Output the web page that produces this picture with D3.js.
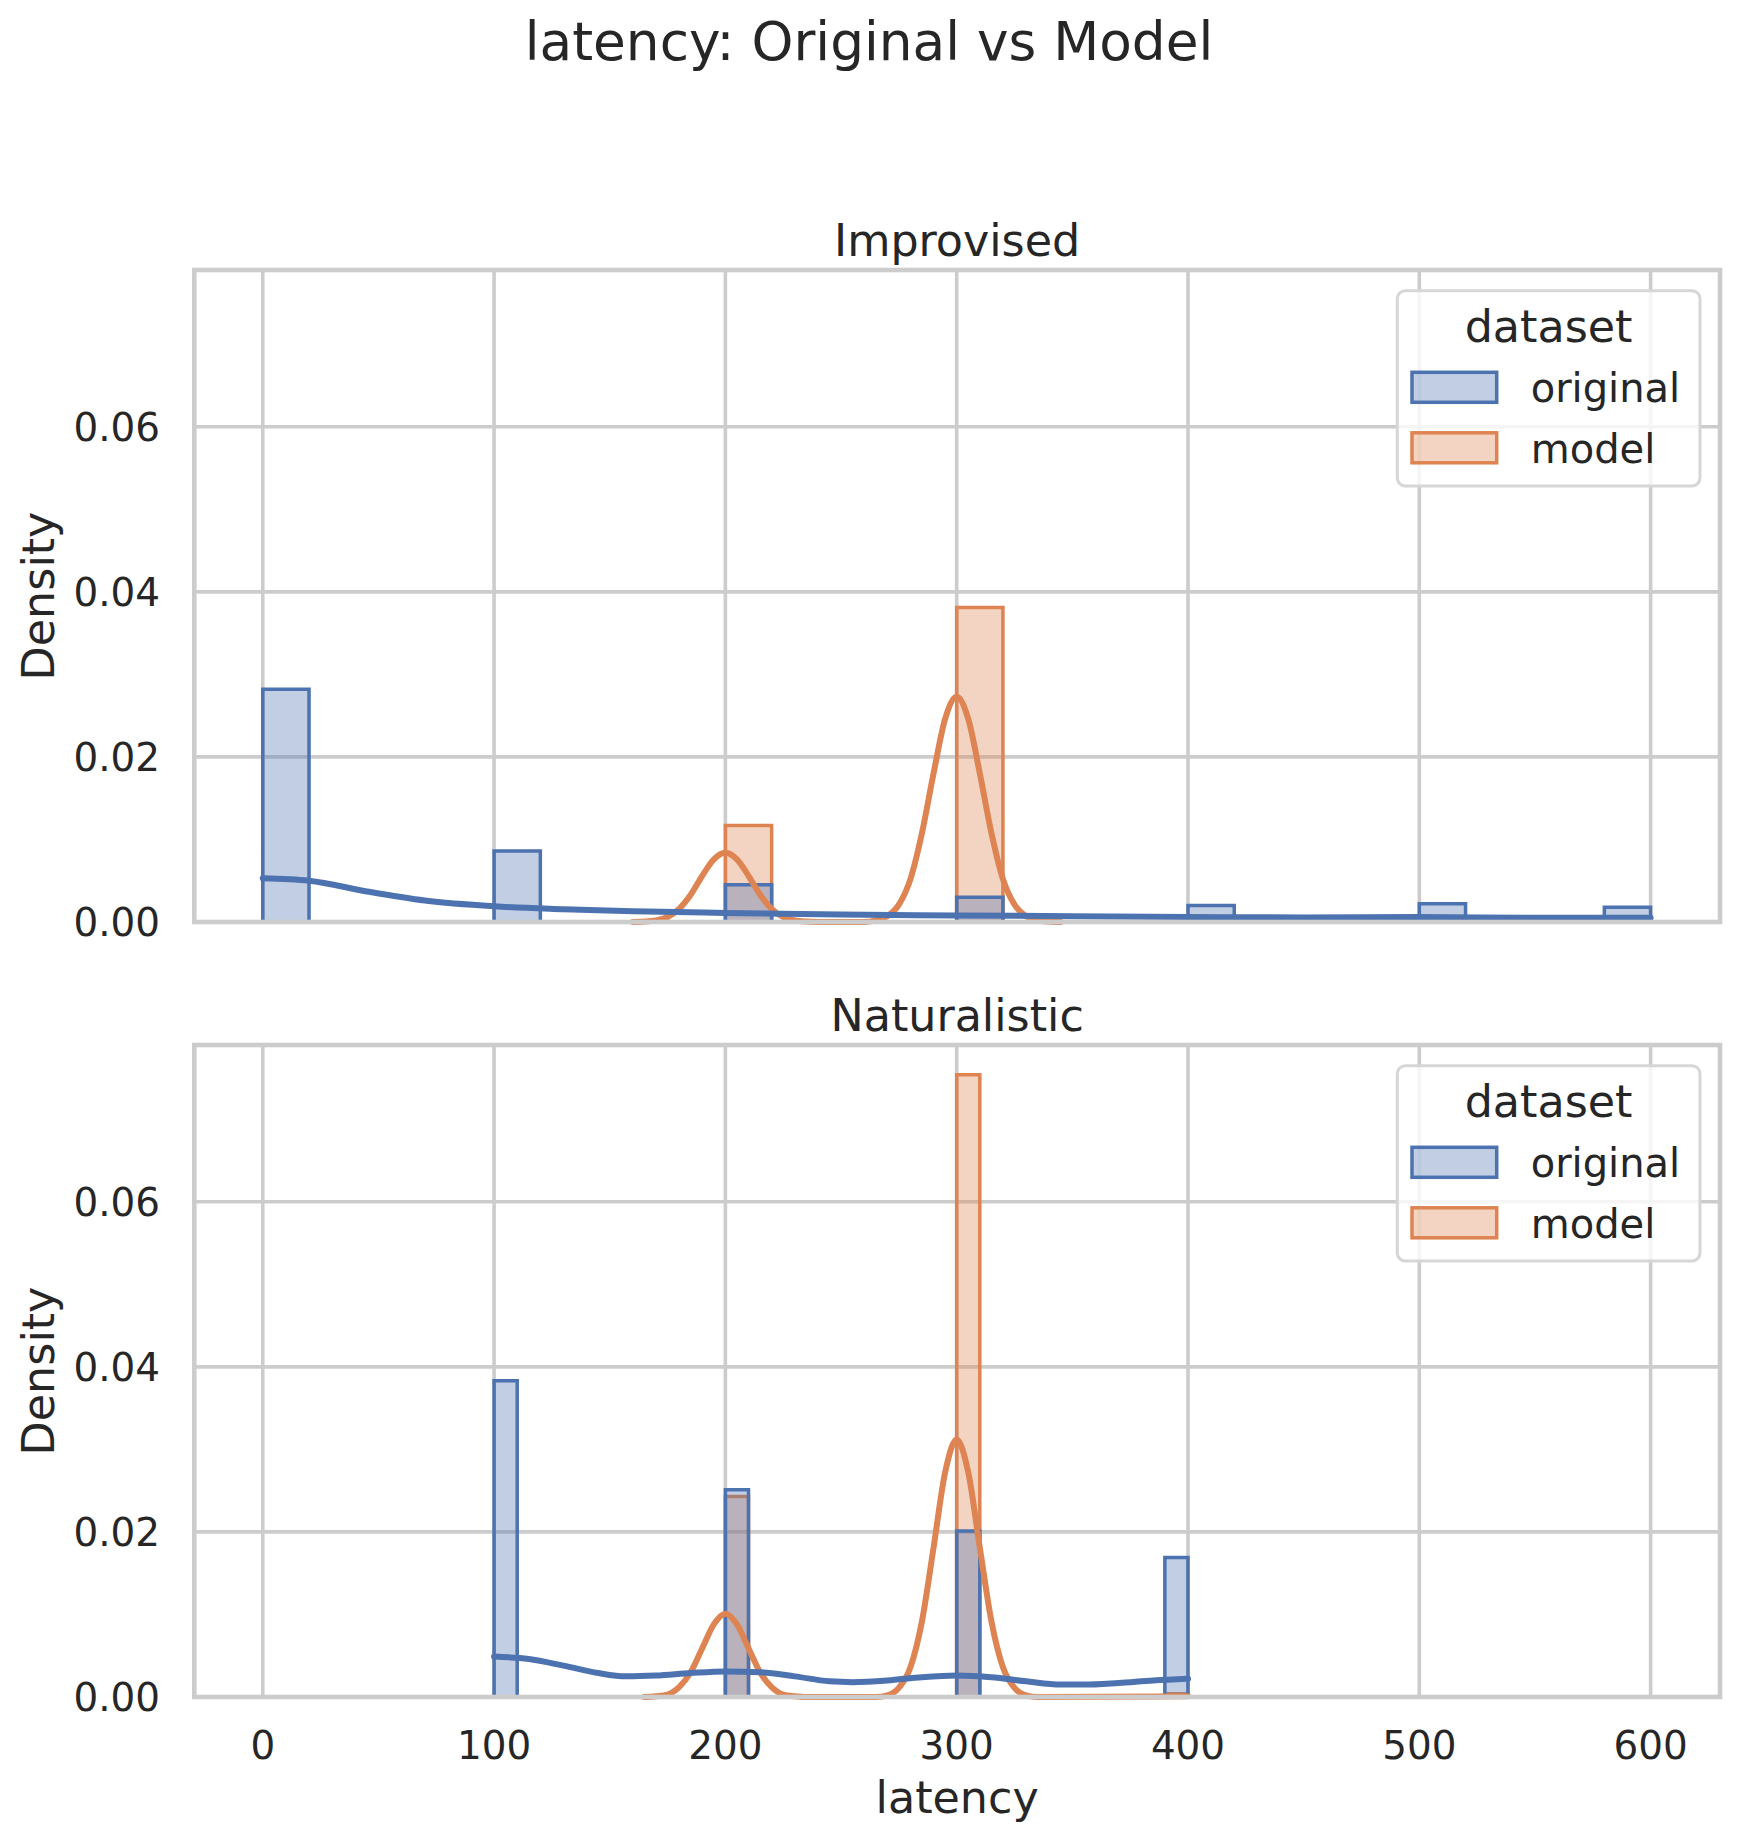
<!DOCTYPE html>
<html>
<head>
<meta charset="utf-8">
<script src="https://cdn.jsdelivr.net/npm/d3@7"></script>
<style>
  body { margin: 0; background: #fff; }
  text { font-family: "DejaVu Sans", sans-serif; fill: #262626; }
</style>
</head>
<body>
<div id="chart"></div>
<script>
// ---- data ----
const hueLevels = ['original', 'model'];
const panelTitles = ['Improvised', 'Naturalistic'];
const xTicks = [0, 100, 200, 300, 400, 500, 600];
const yTicks = [0, 0.02, 0.04, 0.06];

// Improvised: 30 bins of 20 from 0 to 600
const impBinStart = 0, impBinWidth = 20;
const impOriginal = [0.0282, 0, 0, 0, 0, 0.0086, 0, 0, 0, 0, 0.0045, 0, 0, 0, 0, 0.0030, 0, 0, 0, 0, 0.0020, 0, 0, 0, 0, 0.0022, 0, 0, 0, 0.0018];
const impModel = [0, 0, 0, 0, 0, 0, 0, 0, 0, 0, 0.0117, 0, 0, 0, 0, 0.0381, 0, 0, 0, 0, 0, 0, 0, 0, 0, 0, 0, 0, 0, 0];

// Naturalistic: 30 bins of 10 from 100 to 400
const natBinStart = 100, natBinWidth = 10;
const natOriginal = [0.0383, 0, 0, 0, 0, 0, 0, 0, 0, 0, 0.0251, 0, 0, 0, 0, 0, 0, 0, 0, 0, 0.0201, 0, 0, 0, 0, 0, 0, 0, 0, 0.0169];
const natModel = [0, 0, 0, 0, 0, 0, 0, 0, 0, 0, 0.0243, 0, 0, 0, 0, 0, 0, 0, 0, 0, 0.0754, 0, 0, 0, 0, 0, 0, 0, 0, 0.0004];

// kde curves as [latency, density]
const impOriginalKde = [[0, 0.0053], [20, 0.0050], [45, 0.0037], [70, 0.0026], [100, 0.0019], [130, 0.00155], [160, 0.0013], [200, 0.0011], [250, 0.0009], [300, 0.0008], [350, 0.0007], [400, 0.0006], [450, 0.00055], [500, 0.0006], [550, 0.0005], [600, 0.0005]];
const impModelKde = [[160, 0], [165, 0.00005], [170, 0.0002], [175, 0.0006], [180, 0.0016], [185, 0.0033], [190, 0.0056], [195, 0.0076], [200, 0.0084], [205, 0.0076], [210, 0.0056], [215, 0.0033], [220, 0.0016], [225, 0.0006], [230, 0.0002], [235, 0.00005], [240, 0], [260, 0], [265, 0.0002], [270, 0.0007], [275, 0.0021], [280, 0.0052], [285, 0.0108], [290, 0.0180], [295, 0.0246], [300, 0.0273], [305, 0.0246], [310, 0.0180], [315, 0.0108], [320, 0.0052], [325, 0.0021], [330, 0.0007], [335, 0.0002], [340, 0.00005], [345, 0]];
const natOriginalKde = [[100, 0.0049], [115, 0.0046], [130, 0.0038], [145, 0.0029], [157, 0.0025], [170, 0.0026], [185, 0.0029], [200, 0.0031], [215, 0.0030], [230, 0.0025], [245, 0.0019], [255, 0.0018], [270, 0.0020], [285, 0.0024], [300, 0.0026], [315, 0.0024], [330, 0.0019], [345, 0.0015], [355, 0.0015], [370, 0.0017], [385, 0.0020], [400, 0.0022]];
const natModelKde = [[165, 0], [170, 0.0001], [175, 0.0003], [180, 0.0012], [185, 0.0030], [190, 0.0059], [195, 0.0088], [200, 0.0101], [205, 0.0088], [210, 0.0059], [215, 0.0030], [220, 0.0012], [225, 0.0003], [230, 0.0001], [235, 0], [265, 0], [270, 0.0002], [275, 0.0011], [280, 0.0036], [285, 0.0092], [290, 0.0181], [295, 0.0272], [300, 0.0312], [305, 0.0272], [310, 0.0181], [315, 0.0092], [320, 0.0036], [325, 0.0011], [330, 0.0002], [335, 0], [400, 0.0001]];

const panels = [
    { title: panelTitles[0], start: impBinStart, width: impBinWidth, hist: { original: impOriginal, model: impModel }, kde: { original: impOriginalKde, model: impModelKde } },
    { title: panelTitles[1], start: natBinStart, width: natBinWidth, hist: { original: natOriginal, model: natModel }, kde: { original: natOriginalKde, model: natModelKde } }
];

// ---- layout ----
const W = 1738, H = 1839;
const colors = { original: '#4C72B0', model: '#DD8452' };
const fillAlpha = 0.35;
const plotLeft = 194.3, plotRight = 1720;
const panelTops = [270, 1045];
const panelHeight = 652;
const gridColor = '#cccccc';

const x = d3.scaleLinear().domain([-29.6, 630]).range([plotLeft, plotRight]);

const svg = d3.select('#chart')
    .append('svg')
    .attr('width', W)
    .attr('height', H);

svg.append('rect').attr('width', W).attr('height', H).attr('fill', '#fff');

svg.append('text')
    .attr('x', W / 2)
    .attr('y', 60)
    .attr('text-anchor', 'middle')
    .attr('font-size', '53.3px')
    .text('latency: Original vs Model');

panels.forEach((p, pi) => {
    const top = panelTops[pi];
    const bottom = top + panelHeight;
    const y = d3.scaleLinear().domain([0, 0.07899]).range([bottom, top]);
    const g = svg.append('g');

    // grid
    g.selectAll('.xgrid')
        .data(xTicks)
        .enter()
        .append('line')
        .attr('x1', d => x(d)).attr('x2', d => x(d))
        .attr('y1', top).attr('y2', bottom)
        .attr('stroke', gridColor)
        .attr('stroke-width', 3.6);

    g.selectAll('.ygrid')
        .data(yTicks)
        .enter()
        .append('line')
        .attr('x1', plotLeft).attr('x2', plotRight)
        .attr('y1', d => y(d)).attr('y2', d => y(d))
        .attr('stroke', gridColor)
        .attr('stroke-width', 3.6);

    // step histograms, model first so original sits on top
    const area = d3.area()
        .x(d => x(d[0]))
        .y0(y(0))
        .y1(d => y(d[1]))
        .curve(d3.curveStepAfter);

    ['model', 'original'].forEach(level => {
        const vals = p.hist[level];
        const pts = vals.map((v, i) => [p.start + i * p.width, v]);
        pts.push([p.start + vals.length * p.width, vals[vals.length - 1]]);
        g.append('path')
            .attr('d', area(pts) + 'Z')
            .attr('fill', colors[level])
            .attr('fill-opacity', fillAlpha)
            .attr('stroke', colors[level])
            .attr('stroke-width', 3.5)
            .attr('stroke-linejoin', 'miter');
    });

    // kde lines
    const line = d3.line()
        .x(d => x(d[0]))
        .y(d => y(d[1]))
        .curve(d3.curveMonotoneX);

    ['model', 'original'].forEach(level => {
        g.append('path')
            .attr('d', line(p.kde[level]))
            .attr('fill', 'none')
            .attr('stroke', colors[level])
            .attr('stroke-width', 6)
            .attr('stroke-linecap', 'round')
            .attr('stroke-linejoin', 'round');
    });

    // spines
    g.append('rect')
        .attr('x', plotLeft).attr('y', top)
        .attr('width', plotRight - plotLeft).attr('height', panelHeight)
        .attr('fill', 'none')
        .attr('stroke', gridColor)
        .attr('stroke-width', 4.6);

    // y tick labels
    g.selectAll('.ylab')
        .data(yTicks)
        .enter()
        .append('text')
        .attr('x', 160)
        .attr('y', d => y(d))
        .attr('dy', '0.36em')
        .attr('text-anchor', 'end')
        .attr('font-size', '38.9px')
        .text(d => d3.format('.2f')(d));

    // y label
    g.append('text')
        .attr('transform', `translate(54,${(top + bottom) / 2}) rotate(-90)`)
        .attr('text-anchor', 'middle')
        .attr('font-size', '44.4px')
        .text('Density');

    // panel title
    g.append('text')
        .attr('x', (plotLeft + plotRight) / 2)
        .attr('y', top - 14)
        .attr('text-anchor', 'middle')
        .attr('font-size', '44.4px')
        .text(p.title);

    // legend
    const lx = 1397.3, ly = top + 20.7;
    const legend = g.append('g').attr('transform', `translate(${lx},${ly})`);
    legend.append('rect')
        .attr('width', 302.7).attr('height', 195.3)
        .attr('rx', 8).attr('ry', 8)
        .attr('fill', '#fff').attr('fill-opacity', 0.8)
        .attr('stroke', '#d6d6d6').attr('stroke-width', 3);
    legend.append('text')
        .attr('x', 151.3).attr('y', 51.6)
        .attr('text-anchor', 'middle')
        .attr('font-size', '44.4px')
        .text('dataset');
    const items = legend.selectAll('.legend-item')
        .data(hueLevels)
        .enter()
        .append('g')
        .attr('transform', (d, i) => `translate(0,${81.6 + i * 60.5})`);
    items.append('rect')
        .attr('x', 14.7).attr('y', 0)
        .attr('width', 84.7).attr('height', 30)
        .attr('fill', d => colors[d]).attr('fill-opacity', fillAlpha)
        .attr('stroke', d => colors[d]).attr('stroke-width', 3.5);
    items.append('text')
        .attr('x', 133.4).attr('y', 29.8)
        .attr('font-size', '40px')
        .text(d => d);

    // x tick labels on the bottom panel only
    if (pi === panels.length - 1) {
        g.selectAll('.xlab')
            .data(xTicks)
            .enter()
            .append('text')
            .attr('x', d => x(d))
            .attr('y', 1759.3)
            .attr('text-anchor', 'middle')
            .attr('font-size', '38.9px')
            .text(d => d);
        g.append('text')
            .attr('x', (plotLeft + plotRight) / 2)
            .attr('y', 1813)
            .attr('text-anchor', 'middle')
            .attr('font-size', '44.4px')
            .text('latency');
    }
});
</script>
</body>
</html>
